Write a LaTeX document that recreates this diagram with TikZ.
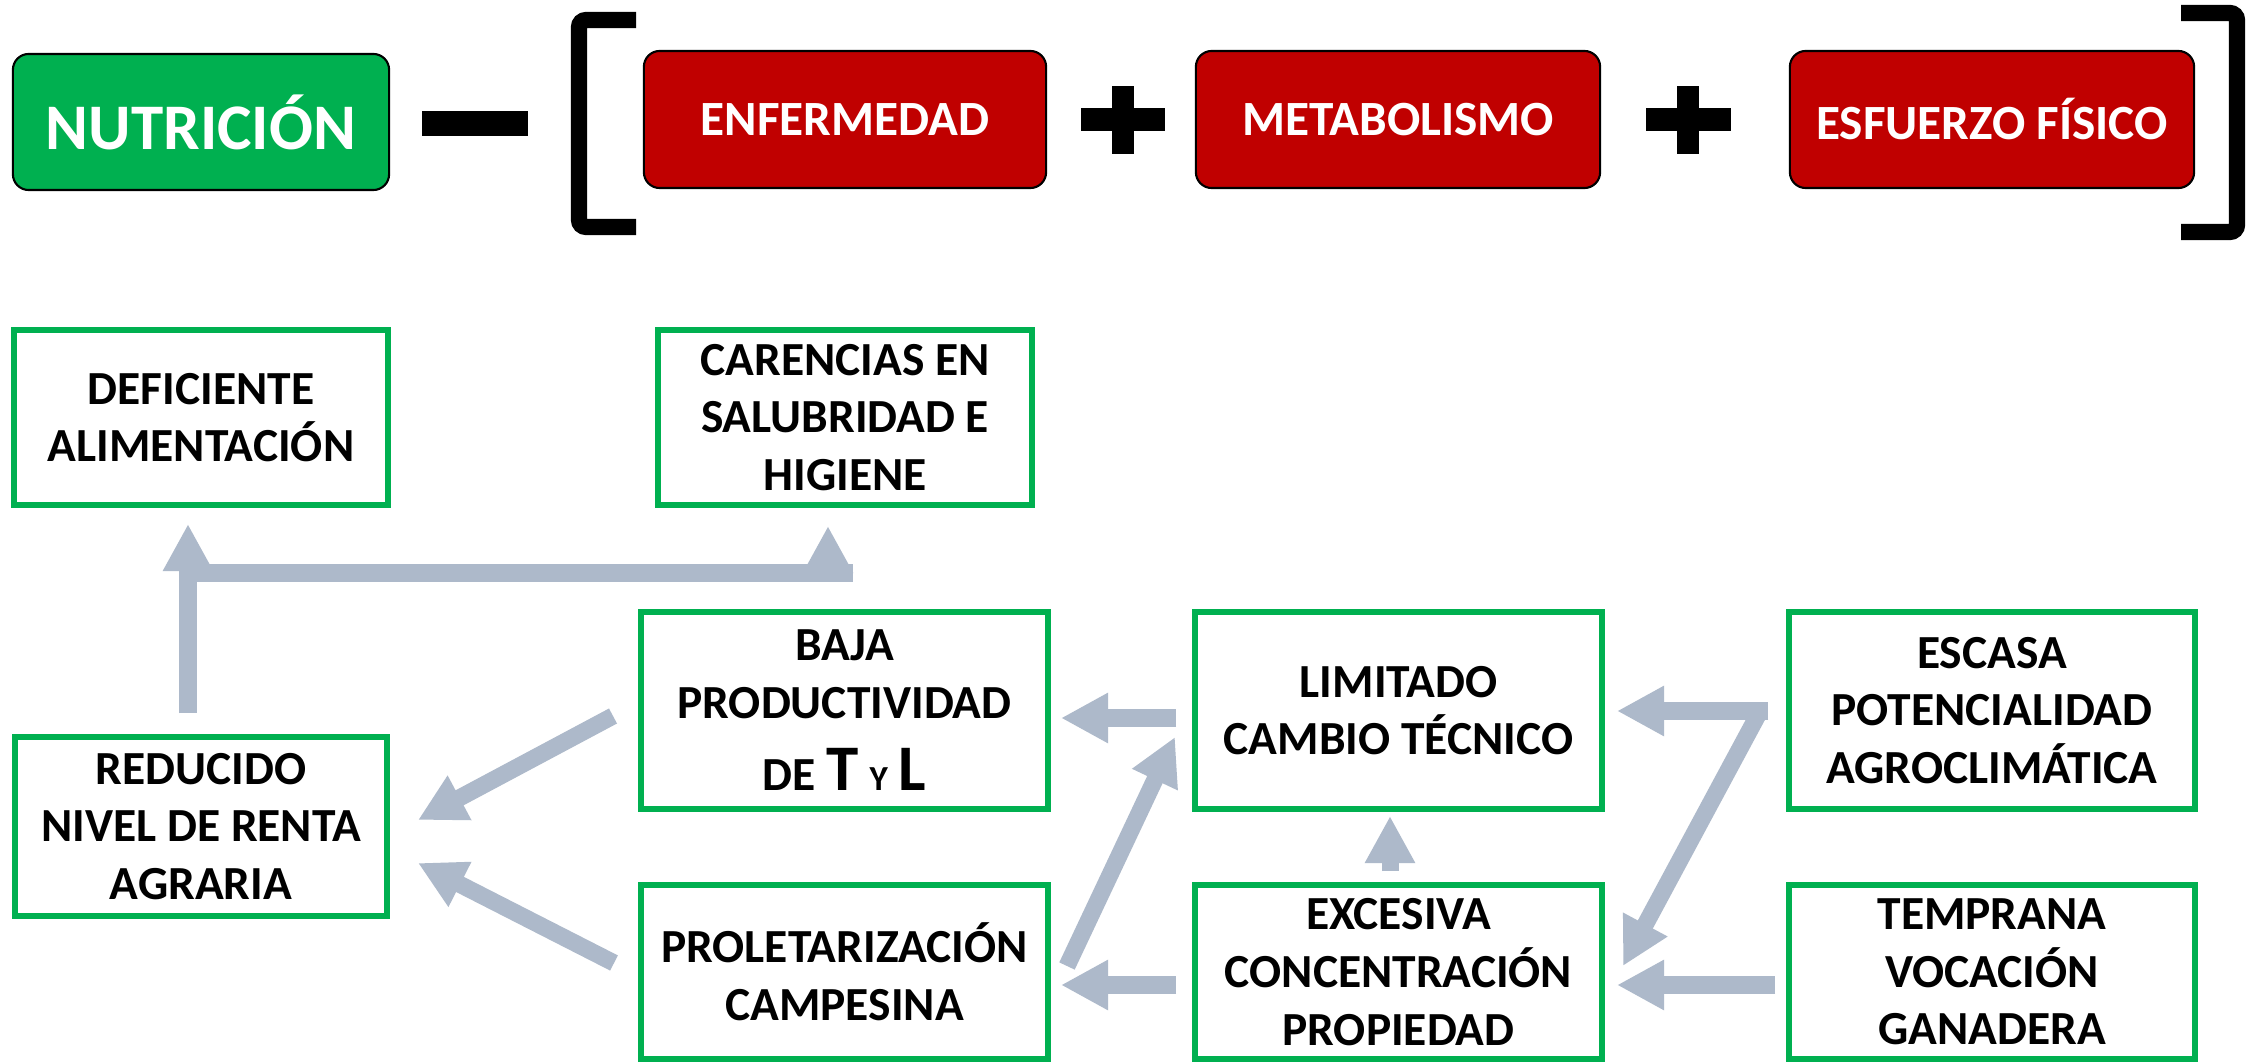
\documentclass[tikz,border=0pt]{standalone}
\usepackage{fontspec}
\setmainfont{Carlito}
\usetikzlibrary{arrows.meta}
\definecolor{grn}{HTML}{00B050}
\definecolor{rd}{HTML}{C00000}
\definecolor{arr}{HTML}{ADB9CA}
\begin{document}
\begin{tikzpicture}[x=0.01cm,y=-0.01cm,
 topbox/.style={draw=black,line width=0.6pt,rounded corners=4.5pt,text=white,
   font=\bfseries\fontsize{14}{17}\selectfont,inner sep=0pt,minimum height=1.37cm},
 gbox/.style={draw=grn,line width=1.7pt,fill=white,align=center,
   font=\bfseries\fontsize{13.5}{16.4}\selectfont,inner sep=0pt},
 flow/.style={draw=arr,line width=4.84pt,-{Triangle[length=13.4pt,width=13.4pt]}},
 flowbar/.style={draw=arr,line width=4.84pt},
 brk/.style={draw=black,line width=4.6pt,rounded corners=2pt}
]
\useasboundingbox (0,0) rectangle (2257,1064);
\fill[white] (0,0) rectangle (2257,1064);

% top row
\node[topbox,fill=grn,minimum width=3.76cm,minimum height=1.36cm,
  font=\bfseries\fontsize{18.5}{22}\selectfont] (nut) at (201,122) {NUTRICIÓN};
\node[topbox,fill=rd,minimum width=4.02cm] (enf) at (845,119.5) {ENFERMEDAD};
\node[topbox,fill=rd,minimum width=4.04cm] (met) at (1398,119.5) {METABOLISMO};
\node[topbox,fill=rd,minimum width=4.04cm] (esf) at (1992,119.5) {ESFUERZO FÍSICO};

% minus and plus signs
\fill (422,111) rectangle (528,136);
\fill (1081,108) rectangle (1165,131);
\fill (1112,86) rectangle (1134,154);
\fill (1646,108) rectangle (1731,131);
\fill (1677,86) rectangle (1699,154);

% brackets
\draw[brk] (636,20) -- (579,20) -- (579,227) -- (636,227);
\draw[brk] (2181,13) -- (2237,13) -- (2237,232) -- (2181,232);

% lower boxes
\node[gbox,minimum width=3.74cm,minimum height=1.75cm] (def) at (201,417.5) {DEFICIENTE\\ALIMENTACIÓN};
\node[gbox,minimum width=3.74cm,minimum height=1.75cm] (car) at (845,417.5) {CARENCIAS EN\\SALUBRIDAD E\\HIGIENE};
\node[gbox,minimum width=3.72cm,minimum height=1.79cm] (red) at (201,826.5) {REDUCIDO\\NIVEL DE RENTA\\AGRARIA};
\node[gbox,minimum width=4.07cm,minimum height=1.97cm] (baja) at (844.5,710.5)
  {BAJA\\PRODUCTIVIDAD\\[4.2pt]DE {\fontsize{18.5}{22}\selectfont T} {\fontsize{10}{12}\selectfont Y} {\fontsize{18.5}{22}\selectfont L}};
\node[gbox,minimum width=4.07cm,minimum height=1.74cm] (prol) at (844.5,972) {PROLETARIZACIÓN\\CAMPESINA};
\node[gbox,minimum width=4.07cm,minimum height=1.97cm] (lim) at (1398.5,710.5) {LIMITADO\\CAMBIO TÉCNICO};
\node[gbox,minimum width=4.07cm,minimum height=1.74cm] (exc) at (1398.5,972) {EXCESIVA\\CONCENTRACIÓN\\PROPIEDAD};
\node[gbox,minimum width=4.06cm,minimum height=1.97cm] (esc) at (1992,710.5) {ESCASA\\POTENCIALIDAD\\AGROCLIMÁTICA};
\node[gbox,minimum width=4.06cm,minimum height=1.74cm] (tem) at (1992,972) {TEMPRANA\\VOCACIÓN\\GANADERA};

% connector end points
\coordinate (redtop) at (188,713);
\coordinate (elb) at (188,573);
\coordinate (barend) at (853,573);
\coordinate (deftip) at (188,524);
\coordinate (carfoot) at (828,578);
\coordinate (cartip) at (828,526);
\coordinate (bajatail) at (613,716);
\coordinate (redtipA) at (418,820);
\coordinate (proltail) at (614,963);
\coordinate (redtipB) at (418,863);
\coordinate (limtail) at (1176,718);
\coordinate (bajatip) at (1061,718);
\coordinate (exctail) at (1176,985);
\coordinate (proltip) at (1061,985);
\coordinate (proltailB) at (1067,966);
\coordinate (limtipA) at (1175,737);
\coordinate (exctailB) at (1390,871);
\coordinate (limtipB) at (1390,816);
\coordinate (esctail) at (1768,711);
\coordinate (limtipC) at (1617,711);
\coordinate (esctailB) at (1759,713);
\coordinate (exctipA) at (1623,966);
\coordinate (temtail) at (1775,985);
\coordinate (exctipB) at (1617,985);

% connectors
\draw[flowbar] (redtop) -- (elb) -- (barend);
\draw[flow] (elb) -- (deftip);
\draw[flow] (carfoot) -- (cartip);
\draw[flow] (bajatail) -- (redtipA);
\draw[flow] (proltail) -- (redtipB);
\draw[flow] (limtail) -- (bajatip);
\draw[flow] (exctail) -- (proltip);
\draw[flow] (proltailB) -- (limtipA);
\draw[flow] (exctailB) -- (limtipB);
\draw[flow] (esctail) -- (limtipC);
\draw[flow] (esctailB) -- (exctipA);
\draw[flow] (temtail) -- (exctipB);
\end{tikzpicture}
\end{document}
